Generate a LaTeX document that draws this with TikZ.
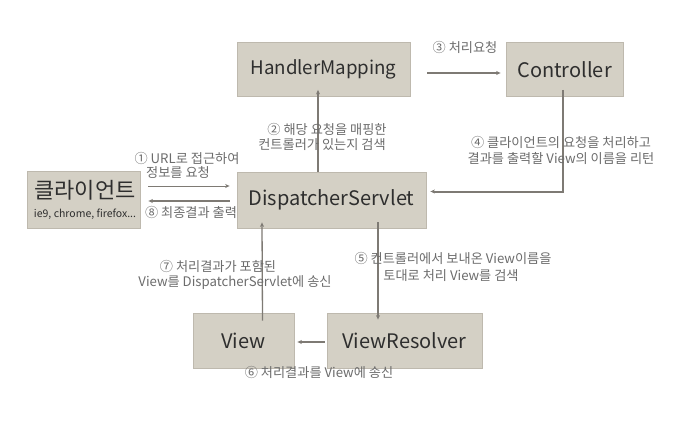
\documentclass[tikz,border=0pt]{standalone}
\usepackage{fontspec}
\setmainfont{Noto Sans CJK KR}
\usetikzlibrary{arrows.meta,calc}
\definecolor{boxfill}{HTML}{D4D0C5}
\definecolor{boxline}{HTML}{BEB9AE}
\definecolor{conn}{HTML}{7E7A74}
\definecolor{lbl}{HTML}{6C6C6C}
\definecolor{btxt}{HTML}{2E2E2E}
\begin{document}
\begin{tikzpicture}[x=1pt,y=-1pt,
  box/.style={draw=boxline,fill=boxfill,line width=0.8pt,inner sep=0pt,text=btxt,font=\fontsize{20}{22}\selectfont},
  lab/.style={text=lbl,font=\fontsize{13.2}{14}\selectfont,inner sep=0pt,align=center},
  conn/.style={draw=conn,line width=1.3pt,-{Stealth[length=4.5pt,width=4pt]}},
]
\useasboundingbox[fill=white] (0,0) rectangle (677,424);
\node[box,minimum width=173pt,minimum height=54pt,font=\fontsize{18.7}{20}\selectfont] (hm) at (323.5,69.5) {HandlerMapping};
\node[box,minimum width=117pt,minimum height=54pt] (ctrl) at (564.5,69.5) {Controller};
\node[box,minimum width=189pt,minimum height=56pt] (ds) at (331.5,200) {DispatcherServlet};
\node[box,minimum width=113pt,minimum height=57pt] (cl) at (83.5,199.5) {};
\node[text=btxt,font=\fontsize{22}{24}\selectfont,inner sep=0pt] (cltxt) at (85,190) {클라이언트};
\node[text=btxt,font=\fontsize{10.5}{11}\selectfont,inner sep=0pt] (clsub) at (85,214) {ie9, chrome, firefox...};
\node[box,minimum width=101pt,minimum height=55pt] (view) at (243.5,340.5) {View};
\node[box,minimum width=155pt,minimum height=55pt] (vr) at (404.5,340.5) {ViewResolver};

% client <-> DS
\draw[conn,line width=0.8pt] ([shift={(8,-13.5)}]cl.east) -- ([shift={(-7,-14)}]ds.west);
\draw[conn,line width=2pt] ([shift={(-7,1)}]ds.west) -- ([shift={(8,1.5)}]cl.east);
\node[lab] (l1a) at (187,158) {① URL로 접근하여};
\node[lab] (l1b) at (178,173) {정보를 요청};
\node[lab] (l8) at (191,212) {⑧ 최종결과 출력};

% DS -> HM
\draw[conn] ([xshift=-13.5]ds.north) -- ([xshift=-5.5,yshift=7]hm.south);
\node[lab] (l2a) at (327,129) {② 해당 요청을 매핑한};
\node[lab] (l2b) at (322,145) {컨트롤러가 있는지 검색};

% HM -> Controller
\draw[conn] ([xshift=17,yshift=-3.5]hm.east) -- ([xshift=-5,yshift=-3.5]ctrl.west);
\node[lab] (l3) at (465,47) {③ 처리요청};

% Controller -> DS
\draw[conn,line width=2pt] ([xshift=-1.5,yshift=7]ctrl.south) |- ([xshift=4,yshift=8.5]ds.east);
\node[lab] (l4a) at (561,142) {④ 클라이언트의 요청을 처리하고};
\node[lab] (l4b) at (561,158) {결과를 출력할 View의 이름을 리턴};

% DS -> ViewResolver
\draw[conn] ([xshift=46.5,yshift=6]ds.south) -- ([xshift=-26.5,yshift=-7]vr.north);
\node[lab] (l5a) at (453,258) {⑤ 컨트롤러에서 보내온 View이름을};
\node[lab] (l5b) at (451,276) {토대로 처리 View를 검색};

% View -> DS
\draw[conn] ([xshift=19,yshift=-8]view.north) -- ([xshift=-69.5,yshift=6]ds.south);
\node[lab] (l7a) at (218,266) {⑦ 처리결과가 포함된};
\node[lab] (l7b) at (235,283) {View를 DispatcherServlet에 송신};

% ViewResolver -> View
\draw[conn] ([xshift=-2,yshift=-1.5]vr.west) -- ([xshift=3,yshift=-1.5]view.east);
\node[lab] (l6) at (319,372) {⑥ 처리결과를 View에 송신};
\end{tikzpicture}
\end{document}
